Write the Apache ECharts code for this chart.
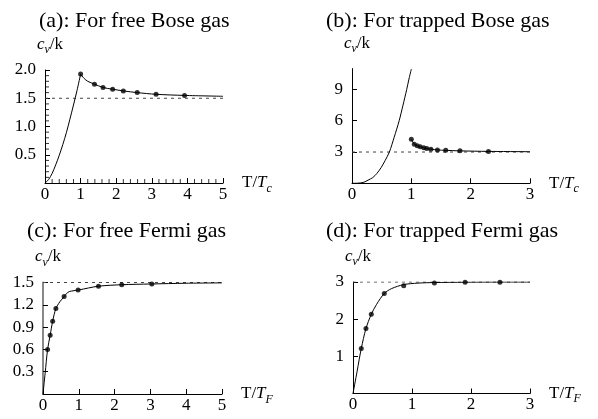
<!DOCTYPE html>
<html>
<head>
<meta charset="utf-8">
<script src="https://cdn.jsdelivr.net/npm/echarts@6/dist/echarts.min.js"></script>
<style>
html,body{margin:0;padding:0;background:#fff;}
#chart{width:598px;height:419px;}
</style>
</head>
<body>
<div id="chart"></div>
<script>
// ---- Panel titles ----
const panelTitles = ['(a): For free Bose gas', '(b): For trapped Bose gas', '(c): For free Fermi gas', '(d): For trapped Fermi gas'];
const xNameSub = ['c', 'c', 'F', 'F'];

// ---- (a) free Bose gas ----
const freeBoseBelowTc = [[0,0],[0.1,0.06],[0.2,0.17],[0.3,0.32],[0.4,0.49],[0.5,0.68],[0.6,0.89],[0.7,1.13],[0.8,1.38],[0.9,1.64],[1.0,1.925]];
const freeBoseAboveTc = [[1.0,1.925],[1.1,1.85],[1.2,1.80],[1.39,1.75],[1.63,1.69],[1.9,1.66],[2.2,1.63],[2.59,1.60],[3.12,1.57],[3.92,1.55],[5.0,1.535]];
const freeBosePoints = [[1.0,1.93],[1.39,1.75],[1.63,1.69],[1.9,1.66],[2.2,1.63],[2.59,1.60],[3.12,1.57],[3.92,1.55]];
const freeBoseLimit = [[0,1.5],[5,1.5]];

// ---- (b) trapped Bose gas ----
const trapBoseBelowTc = [[0,0],[0.1,0.01],[0.2,0.1],[0.27,0.3],[0.35,0.55],[0.42,0.95],[0.49,1.5],[0.56,2.2],[0.63,3.0],[0.71,4.4],[0.795,6.0],[0.86,7.5],[0.922,9.0],[0.96,10.0],[1.0,10.95]];
const trapBoseAboveTc = [[1.0,4.23],[1.05,3.75],[1.1,3.59],[1.15,3.5],[1.21,3.40],[1.26,3.33],[1.33,3.27],[1.44,3.20],[1.58,3.16],[1.82,3.11],[2.3,3.06],[3.0,3.03]];
const trapBosePoints = [[1.0,4.23],[1.05,3.75],[1.1,3.59],[1.15,3.5],[1.21,3.40],[1.26,3.33],[1.33,3.27],[1.44,3.20],[1.58,3.16],[1.82,3.11],[2.3,3.06]];
const trapBoseLimit = [[0,3],[3,3]];

// ---- (c) free Fermi gas ----
const freeFermiCurve = [[0,0],[0.06,0.28],[0.128,0.6],[0.2,0.79],[0.27,0.98],[0.36,1.15],[0.47,1.24],[0.59,1.31],[0.7,1.37],[0.8,1.385],[1.0,1.40],[1.55,1.45],[2.2,1.47],[3.0,1.48],[4.0,1.49],[5.0,1.495]];
const freeFermiPoints = [[0.128,0.6],[0.2,0.79],[0.27,0.98],[0.36,1.15],[0.59,1.31],[0.98,1.40],[1.55,1.45],[2.2,1.47],[3.04,1.48]];
const freeFermiLimit = [[0,1.5],[5,1.5]];

// ---- (d) trapped Fermi gas ----
const trapFermiCurve = [[0,0],[0.07,0.6],[0.14,1.21],[0.22,1.75],[0.31,2.13],[0.4,2.4],[0.53,2.69],[0.65,2.82],[0.86,2.93],[1.1,2.97],[1.38,2.985],[1.9,2.995],[2.5,3.0],[3.0,3.0]];
const trapFermiPoints = [[0.14,1.21],[0.22,1.75],[0.31,2.13],[0.53,2.69],[0.86,2.90],[1.38,2.97],[1.90,2.99],[2.49,2.99]];
const trapFermiLimit = [[0,3],[3,3]];

// ---- axis ranges / tick values ----
const xMax = [5, 3, 5, 3];
const yMax = [2, 11, 1.5, 3];
const yInterval = [0.5, 3, 0.3, 1];
const yLabelValues = [[0.5, 1.0, 1.5, 2.0], [3, 6, 9], [0.3, 0.6, 0.9, 1.2, 1.5], [1, 2, 3]];
// panel (a) minor ticks
const minorTicksXA = [0.2,0.4,0.6,0.8,1.2,1.4,1.6,1.8,2.2,2.4,2.6,2.8,3.2,3.4,3.6,3.8,4.2,4.4,4.6,4.8];
const minorTicksYA = [0.1,0.2,0.3,0.4,0.6,0.7,0.8,0.9,1.1,1.2,1.3,1.4,1.6,1.7,1.8,1.9];

const FONT = 'Liberation Serif';
const chart = echarts.init(document.getElementById('chart'));

const grids = [
  {left: 45, top: 70, width: 178, height: 113},
  {left: 352, top: 68.6, width: 178, height: 114.7},
  {left: 43, top: 282.5, width: 179, height: 111.5},
  {left: 353, top: 282, width: 177, height: 111.5}
];
const titlePos = [
  {left: 34, top: 3},
  {left: 321, top: 3},
  {left: 22, top: 213},
  {left: 321, top: 213}
];

const richName = {
  it: {fontFamily: FONT, fontSize: 17, fontStyle: 'italic', color: '#000', lineHeight: 23},
  sub: {fontFamily: FONT, fontSize: 12, fontStyle: 'italic', color: '#000', verticalAlign: 'bottom', lineHeight: 14},
  n: {fontFamily: FONT, fontSize: 17, color: '#000', lineHeight: 23}
};

const xAxes = [], yAxes = [], titleArr = [];
for (let i = 0; i < 4; i++) {
  titleArr.push({
    text: panelTitles[i], left: titlePos[i].left, top: titlePos[i].top,
    textStyle: {fontFamily: FONT, fontSize: 22, fontWeight: 'normal', color: '#000', lineHeight: 26}
  });
  xAxes.push({
    type: 'value', gridIndex: i, min: 0, max: xMax[i], interval: 1,
    name: '{n|T/}{it|T}{sub|' + xNameSub[i] + '}', nameLocation: 'end', nameGap: 19,
    nameTextStyle: {fontFamily: FONT, fontSize: 17, color: '#000', lineHeight: 23, rich: richName},
    axisLine: {show: true, lineStyle: {color: '#000', width: 1}},
    axisTick: {show: true, inside: true, length: 5, lineStyle: {color: '#000'}},
    axisLabel: {fontFamily: FONT, fontSize: 17, color: '#000', margin: 3},
    splitLine: {show: false}
  });
  yAxes.push({
    type: 'value', gridIndex: i, min: 0, max: yMax[i], interval: yInterval[i],
    name: '{it|c}{sub|v}{n|/k}', nameLocation: 'end', nameGap: 14,
    nameTextStyle: {fontFamily: FONT, fontSize: 17, color: '#000', lineHeight: 23, rich: richName, padding: [0, 0, 0, 10]},
    axisLine: {show: true, lineStyle: {color: i === 2 ? '#888' : '#000', width: i === 2 ? 2 : 1}},
    axisTick: {show: true, inside: true, length: 5, lineStyle: {color: '#000'}, customValues: yLabelValues[i]},
    axisLabel: {fontFamily: FONT, fontSize: 17, color: '#000', margin: 9, customValues: yLabelValues[i],
      formatter: (v) => (i === 0 || i === 2) ? v.toFixed(1) : String(Math.round(v))},
    splitLine: {show: false}
  });
}

function curve(data, idx) {
  return {type: 'line', xAxisIndex: idx, yAxisIndex: idx, data: data, showSymbol: false, smooth: 0.3,
    lineStyle: {color: '#000', width: 1}, silent: true, z: 3};
}
function dots(data, idx) {
  return {type: 'scatter', xAxisIndex: idx, yAxisIndex: idx, data: data, symbolSize: 5,
    itemStyle: {color: '#000'}, silent: true, z: 4};
}
function dashed(data, idx) {
  return {type: 'line', xAxisIndex: idx, yAxisIndex: idx, data: data, showSymbol: false,
    lineStyle: {color: '#444', width: 1, type: [3, 4]}, silent: true, z: 2};
}
// minor ticks: scatter of short line-like markers placed through the axis scale
function minorTicks(values, idx, dir) {
  return {
    type: 'scatter', xAxisIndex: idx, yAxisIndex: idx, silent: true, z: 5, clip: false,
    data: values.map(v => dir === 'x' ? [v, 0] : [0, v]),
    symbol: 'rect',
    symbolSize: dir === 'x' ? [1, 4] : [4, 1],
    symbolOffset: dir === 'x' ? [0, -2] : [2, 0],
    itemStyle: {color: '#000'}
  };
}

const option = {
  animation: false,
  textStyle: {fontFamily: FONT},
  title: titleArr,
  grid: grids,
  xAxis: xAxes,
  yAxis: yAxes,
  series: [
    dashed(freeBoseLimit, 0), curve(freeBoseBelowTc, 0), curve(freeBoseAboveTc, 0), dots(freeBosePoints, 0),
    minorTicks(minorTicksXA, 0, 'x'), minorTicks(minorTicksYA, 0, 'y'),
    dashed(trapBoseLimit, 1), curve(trapBoseBelowTc, 1), curve(trapBoseAboveTc, 1), dots(trapBosePoints, 1),
    dashed(freeFermiLimit, 2), curve(freeFermiCurve, 2), dots(freeFermiPoints, 2),
    dashed(trapFermiLimit, 3), curve(trapFermiCurve, 3), dots(trapFermiPoints, 3)
  ]
};
chart.setOption(option);
</script>
</body>
</html>
